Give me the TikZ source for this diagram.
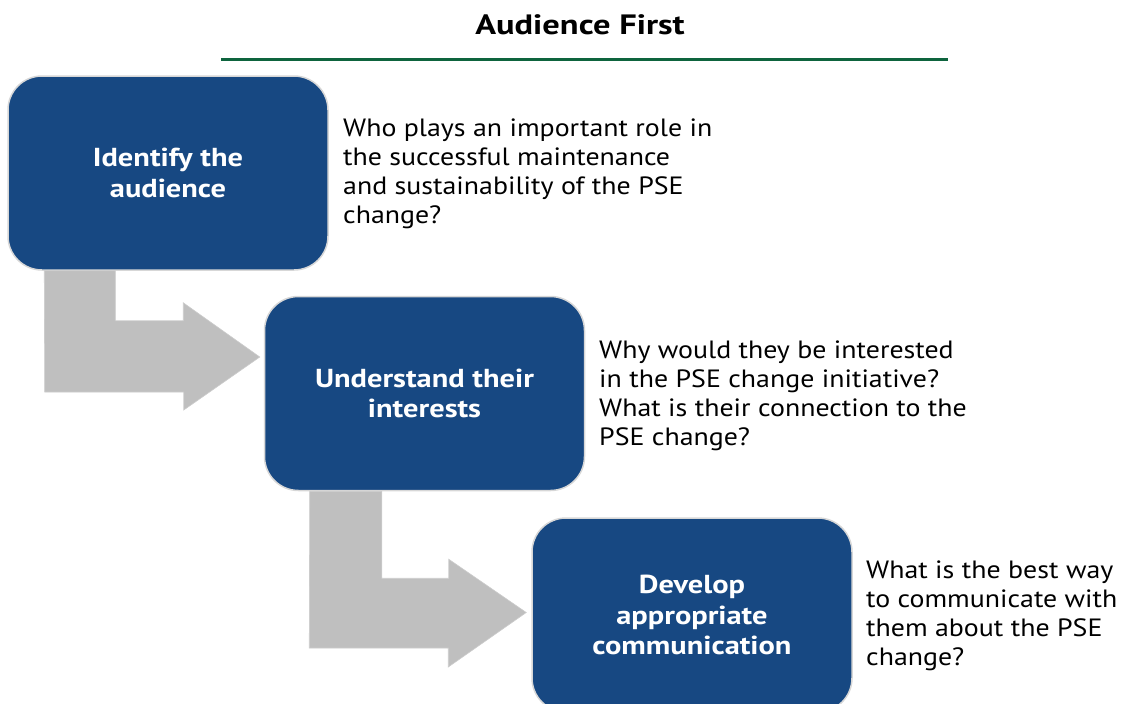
\documentclass[tikz,border=0pt]{standalone}
\usepackage{fontspec}
\setmainfont{PT Sans}
\newfontfamily\notefont[FakeStretch=1.115]{PT Sans}
\newfontfamily\boxfont[FakeStretch=1.17]{PT Sans}
\newfontfamily\titlefont[FakeStretch=1.23]{PT Sans}
\usetikzlibrary{calc}
\definecolor{boxblue}{RGB}{23,72,130}
\definecolor{boxrim}{RGB}{215,215,215}
\definecolor{arrowgray}{RGB}{191,191,191}
\definecolor{rulegreen}{RGB}{14,100,62}
\tikzset{
  stepbox/.style={draw=boxrim, line width=1.5pt, fill=boxblue, rounded corners=34pt,
    minimum width=320pt, minimum height=194pt, inner sep=0pt,
    text=white, align=center, font=\boxfont\fontsize{26}{30.5}\selectfont\bfseries},
  note/.style={anchor=north west, align=left, inner sep=0pt,
    font=\notefont\fontsize{25}{28.7}\selectfont},
  bentarrow/.style={fill=arrowgray, draw=arrowgray!80!white, line width=0.6pt},
}
\begin{document}
\begin{tikzpicture}[x=1pt, y=-1pt]
\useasboundingbox (0,0) rectangle (1128,704);

% heading and rule
\node[font=\titlefont\fontsize{28}{30}\selectfont\bfseries] (title) at (580,25) {Audience First};
\draw[rulegreen, line width=3pt] (221,59) coordinate (r1) -- (948,59) coordinate (r2);

% steps
\node[stepbox] (b1) at (168,173) {Identify the\\audience};
\node[stepbox] (b2) at (424.5,393.5) {Understand their\\interests};
\node[stepbox] (b3) at (692,615) {Develop\\appropriate\\communication};

% bent connectors
\coordinate (t1) at ($(b2.west)+(-4,-36.5)$);
\coordinate (t2) at ($(b3.west)+(-5,-2.5)$);
\draw[bentarrow] ($(b1.south west)+(37,0)$) -- ++(71,0) -- ++(0,50) -- ++(68,0) -- ++(0,-18)
  -- (t1) -- ++(-76,53) -- ++(0,-18) -- ++(-139,0) -- cycle;
\draw[bentarrow] ($(b2.south west)+(46,0)$) -- ++(72,0) -- ++(0,87) -- ++(67,0) -- ++(0,-19)
  -- (t2) -- ++(-78,54.5) -- ++(0,-19) -- ++(-139,0) -- cycle;

% questions
\node[note] (q1) at (343,119) {Who plays an important role in\\the successful maintenance\\and sustainability of the PSE\\change?};
\node[note] (q2) at (599,341) {Why would they be interested\\in the PSE change initiative?\\What is their connection to the\\PSE change?};
\node[note] (q3) at (866,561) {What is the best way\\to communicate with\\them about the PSE\\change?};
\end{tikzpicture}
\end{document}
